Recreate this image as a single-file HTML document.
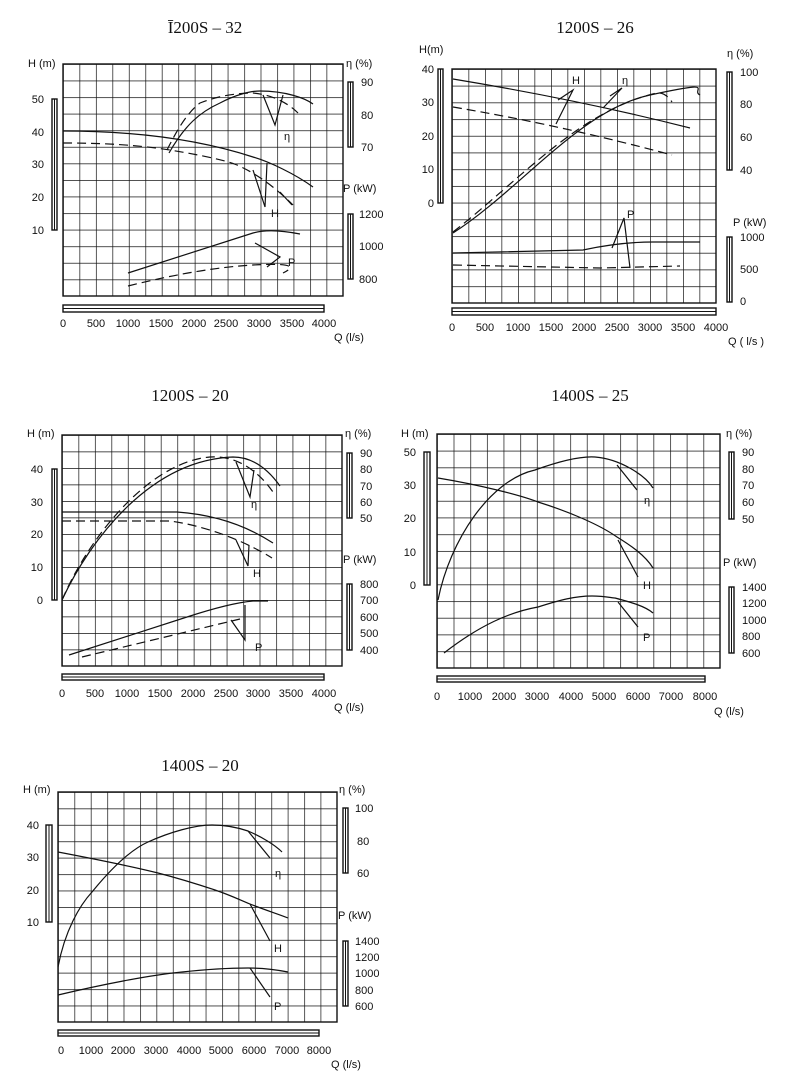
<!DOCTYPE html>
<html><head><meta charset="utf-8"><style>
body{margin:0;background:#fff}
svg{display:block}
.t{font-family:"Liberation Serif",serif;font-size:17px;fill:#111}
.l{font-family:"Liberation Sans",sans-serif;font-size:11px;fill:#111}
.c{fill:none;stroke:#111;stroke-width:1.2}
.d{fill:none;stroke:#111;stroke-width:1.2;stroke-dasharray:9,5}
.g{fill:none;stroke:#111;stroke-width:1.4}
</style></head><body>
<svg width="800" height="1071" viewBox="0 0 800 1071" xmlns="http://www.w3.org/2000/svg">
<defs>
<pattern id="p1" x="63" y="64" width="16.47" height="16.57" patternUnits="userSpaceOnUse"><path d="M0,0V17M0,0H17" stroke="#111" stroke-width="1.4"/></pattern>
<pattern id="p2" x="452" y="69" width="16.5" height="16.71" patternUnits="userSpaceOnUse"><path d="M0,0V17M0,0H17" stroke="#111" stroke-width="1.4"/></pattern>
<pattern id="p3" x="62" y="435" width="16.47" height="16.5" patternUnits="userSpaceOnUse"><path d="M0,0V17M0,0H17" stroke="#111" stroke-width="1.4"/></pattern>
<pattern id="p4" x="437" y="434" width="16.65" height="16.71" patternUnits="userSpaceOnUse"><path d="M0,0V17M0,0H17" stroke="#111" stroke-width="1.4"/></pattern>
<pattern id="p5" x="58" y="792" width="16.41" height="16.43" patternUnits="userSpaceOnUse"><path d="M0,0V17M0,0H17" stroke="#111" stroke-width="1.4"/></pattern>
</defs>

<!-- Chart 1 -->
<text class="t" x="205" y="33" text-anchor="middle">Ī200S – 32</text>
<rect x="63" y="64" width="280" height="232" fill="url(#p1)"/><rect x="63" y="64" width="280" height="232" class="g"/>
<rect x="52" y="99" width="5" height="131" class="g"/><line x1="54.5" y1="99" x2="54.5" y2="230" stroke="#111"/>
<rect x="348" y="82" width="5" height="65" class="g"/><line x1="350.5" y1="82" x2="350.5" y2="147" stroke="#111"/>
<rect x="348" y="214" width="5" height="65" class="g"/><line x1="350.5" y1="214" x2="350.5" y2="279" stroke="#111"/>
<rect x="63" y="305" width="261" height="7" class="g"/><line x1="63" y1="308.5" x2="324" y2="308.5" stroke="#111"/>
<text class="l" x="28" y="67">H (m)</text>
<g class="l" text-anchor="end"><text x="44" y="103">50</text><text x="44" y="136">40</text><text x="44" y="168">30</text><text x="44" y="201">20</text><text x="44" y="234">10</text></g>
<text class="l" x="346" y="67">η (%)</text>
<g class="l"><text x="361" y="86">90</text><text x="361" y="119">80</text><text x="361" y="151">70</text><text x="343" y="192">P (kW)</text><text x="359" y="218">1200</text><text x="359" y="250">1000</text><text x="359" y="283">800</text></g>
<g class="l" text-anchor="middle"><text x="63" y="327">0</text><text x="96" y="327">500</text><text x="128" y="327">1000</text><text x="161" y="327">1500</text><text x="194" y="327">2000</text><text x="226" y="327">2500</text><text x="259" y="327">3000</text><text x="292" y="327">3500</text><text x="324" y="327">4000</text></g>
<text class="l" x="334" y="341">Q (l/s)</text>
<path class="c" d="M63,131 C150,131 210,143 253,157 C270,162 295,174 313,187"/>
<path class="d" d="M63,143 C120,143 150,147 170,150 C200,155 225,160 237,165 C260,175 280,192 293,205"/>
<path class="c" d="M169,153 C185,125 200,112 220,103 C235,95 250,91 260,91 C285,91 305,98 313,104"/>
<path class="d" d="M167,150 C178,128 188,112 200,103 C220,95 240,93 253,93 C275,95 290,105 298,113"/>
<path class="c" d="M128,273 L253,233 Q270,228 300,234"/>
<path class="d" d="M128,286 Q200,268 253,265 T283,273"/>
<path class="c" d="M263,95 L275,125 L283,95 M253,170 L265,207 L267,163 M280,192 L292,205 M255,243 L280,257 L267,267"/>
<text class="l" x="284" y="140">η</text><text class="l" x="271" y="217">H</text><text class="l" x="288" y="266">P</text>

<!-- Chart 2 -->
<text class="t" x="595" y="33" text-anchor="middle">1200S – 26</text>
<rect x="452" y="69" width="264" height="234" fill="url(#p2)"/><rect x="452" y="69" width="264" height="234" class="g"/>
<rect x="438" y="69" width="5" height="134" class="g"/><line x1="440.5" y1="69" x2="440.5" y2="203" stroke="#111"/>
<rect x="727" y="72" width="5" height="98" class="g"/><line x1="729.5" y1="72" x2="729.5" y2="170" stroke="#111"/>
<rect x="727" y="237" width="5" height="65" class="g"/><line x1="729.5" y1="237" x2="729.5" y2="302" stroke="#111"/>
<rect x="452" y="308" width="264" height="7" class="g"/><line x1="452" y1="311.5" x2="716" y2="311.5" stroke="#111"/>
<text class="l" x="419" y="53">H(m)</text>
<g class="l" text-anchor="end"><text x="434" y="73">40</text><text x="434" y="106">30</text><text x="434" y="140">20</text><text x="434" y="173">10</text><text x="434" y="207">0</text></g>
<text class="l" x="727" y="57">η (%)</text>
<g class="l"><text x="740" y="76">100</text><text x="740" y="108">80</text><text x="740" y="141">60</text><text x="740" y="174">40</text><text x="733" y="226">P (kW)</text><text x="740" y="241">1000</text><text x="740" y="273">500</text><text x="740" y="305">0</text></g>
<g class="l" text-anchor="middle"><text x="452" y="331">0</text><text x="485" y="331">500</text><text x="518" y="331">1000</text><text x="551" y="331">1500</text><text x="584" y="331">2000</text><text x="617" y="331">2500</text><text x="650" y="331">3000</text><text x="683" y="331">3500</text><text x="716" y="331">4000</text></g>
<text class="l" x="728" y="345">Q ( l/s )</text>
<path class="c" d="M453,79 Q580,100 690,128"/>
<path class="d" d="M453,107 Q560,125 672,155"/>
<path class="c" d="M453,233 C520,190 580,110 650,95 S690,90 700,95"/>
<path class="d" d="M453,232 C520,180 580,110 657,93 Q665,92 672,102"/>
<path class="c" d="M453,253 L583,250 Q620,242 653,242 L700,242"/>
<path class="d" d="M453,265 L600,268 L680,266"/>
<path class="c" d="M556,124 L573,90 L558,100 M603,108 L622,88 L610,96 M612,248 L624,218 L630,268"/>
<text class="l" x="572" y="84">H</text><text class="l" x="622" y="84">η</text><text class="l" x="627" y="218">P</text>

<!-- Chart 3 -->
<text class="t" x="190" y="401" text-anchor="middle">1200S – 20</text>
<rect x="62" y="435" width="280" height="231" fill="url(#p3)"/><rect x="62" y="435" width="280" height="231" class="g"/>
<rect x="52" y="469" width="5" height="131" class="g"/><line x1="54.5" y1="469" x2="54.5" y2="600" stroke="#111"/>
<rect x="347" y="453" width="5" height="65" class="g"/><line x1="349.5" y1="453" x2="349.5" y2="518" stroke="#111"/>
<rect x="347" y="584" width="5" height="66" class="g"/><line x1="349.5" y1="584" x2="349.5" y2="650" stroke="#111"/>
<rect x="62" y="674" width="262" height="6" class="g"/><line x1="62" y1="677" x2="324" y2="677" stroke="#111"/>
<text class="l" x="27" y="437">H (m)</text>
<g class="l" text-anchor="end"><text x="43" y="473">40</text><text x="43" y="506">30</text><text x="43" y="538">20</text><text x="43" y="571">10</text><text x="43" y="604">0</text></g>
<text class="l" x="345" y="437">η (%)</text>
<g class="l"><text x="360" y="457">90</text><text x="360" y="473">80</text><text x="360" y="490">70</text><text x="360" y="506">60</text><text x="360" y="522">50</text><text x="343" y="563">P (kW)</text><text x="360" y="588">800</text><text x="360" y="604">700</text><text x="360" y="621">600</text><text x="360" y="637">500</text><text x="360" y="654">400</text></g>
<g class="l" text-anchor="middle"><text x="62" y="697">0</text><text x="95" y="697">500</text><text x="127" y="697">1000</text><text x="160" y="697">1500</text><text x="193" y="697">2000</text><text x="226" y="697">2500</text><text x="258" y="697">3000</text><text x="291" y="697">3500</text><text x="324" y="697">4000</text></g>
<text class="l" x="334" y="711">Q (l/s)</text>
<path class="c" d="M62,600 C90,540 150,460 233,457 C255,457 270,472 280,486"/>
<path class="d" d="M62,600 C90,535 150,462 210,457 C240,455 262,475 275,495"/>
<path class="c" d="M62,512 L177,512 C220,515 250,528 273,543"/>
<path class="d" d="M62,521 L170,521 C200,525 240,538 272,558"/>
<path class="c" d="M69,655 L187,617 Q230,603 253,601 L268,601"/>
<path class="d" d="M82,657 L240,619"/>
<path class="c" d="M236,462 L250,497 L254,470 M236,540 L248,566 L249,545 M231,620 L245,640 L245,605"/>
<text class="l" x="251" y="508">η</text><text class="l" x="253" y="577">H</text><text class="l" x="255" y="651">P</text>

<!-- Chart 4 -->
<text class="t" x="590" y="401" text-anchor="middle">1400S – 25</text>
<rect x="437" y="434" width="283" height="234" fill="url(#p4)"/><rect x="437" y="434" width="283" height="234" class="g"/>
<rect x="424" y="452" width="6" height="133" class="g"/><line x1="427" y1="452" x2="427" y2="585" stroke="#111"/>
<rect x="729" y="452" width="5" height="67" class="g"/><line x1="731.5" y1="452" x2="731.5" y2="519" stroke="#111"/>
<rect x="729" y="587" width="5" height="66" class="g"/><line x1="731.5" y1="587" x2="731.5" y2="653" stroke="#111"/>
<rect x="437" y="676" width="268" height="6" class="g"/><line x1="437" y1="679" x2="705" y2="679" stroke="#111"/>
<text class="l" x="401" y="437">H (m)</text>
<g class="l" text-anchor="end"><text x="416" y="456">50</text><text x="416" y="489">30</text><text x="416" y="522">20</text><text x="416" y="556">10</text><text x="416" y="589">0</text></g>
<text class="l" x="726" y="437">η (%)</text>
<g class="l"><text x="742" y="456">90</text><text x="742" y="473">80</text><text x="742" y="489">70</text><text x="742" y="506">60</text><text x="742" y="523">50</text><text x="723" y="566">P (kW)</text><text x="742" y="591">1400</text><text x="742" y="607">1200</text><text x="742" y="624">1000</text><text x="742" y="640">800</text><text x="742" y="657">600</text></g>
<g class="l" text-anchor="middle"><text x="437" y="700">0</text><text x="470" y="700">1000</text><text x="504" y="700">2000</text><text x="537" y="700">3000</text><text x="571" y="700">4000</text><text x="604" y="700">5000</text><text x="638" y="700">6000</text><text x="671" y="700">7000</text><text x="705" y="700">8000</text></g>
<text class="l" x="714" y="715">Q (l/s)</text>
<path class="c" d="M438,600 C450,540 490,480 535,470 C560,461 580,456 595,457 C620,459 645,475 653,488"/>
<path class="c" d="M438,478 C480,485 520,495 538,502 C570,512 600,525 617,537 C630,545 645,555 653,568"/>
<path class="c" d="M444,653 C480,625 510,612 538,607 C560,600 575,596 592,596 C605,596 612,598 615,598 C630,602 645,606 653,613"/>
<path class="c" d="M617,465 L637,490 M618,540 L638,577 M618,602 L638,627"/>
<text class="l" x="644" y="504">η</text><text class="l" x="643" y="589">H</text><text class="l" x="643" y="641">P</text>

<!-- Chart 5 -->
<text class="t" x="200" y="771" text-anchor="middle">1400S – 20</text>
<rect x="58" y="792" width="279" height="230" fill="url(#p5)"/><rect x="58" y="792" width="279" height="230" class="g"/>
<rect x="46" y="825" width="6" height="97" class="g"/><line x1="49" y1="825" x2="49" y2="922" stroke="#111"/>
<rect x="343" y="808" width="5" height="65" class="g"/><line x1="345.5" y1="808" x2="345.5" y2="873" stroke="#111"/>
<rect x="343" y="941" width="5" height="65" class="g"/><line x1="345.5" y1="941" x2="345.5" y2="1006" stroke="#111"/>
<rect x="58" y="1030" width="261" height="6" class="g"/><line x1="58" y1="1033" x2="319" y2="1033" stroke="#111"/>
<text class="l" x="23" y="793">H (m)</text>
<g class="l" text-anchor="end"><text x="39" y="829">40</text><text x="39" y="861">30</text><text x="39" y="894">20</text><text x="39" y="926">10</text></g>
<text class="l" x="339" y="793">η (%)</text>
<g class="l"><text x="355" y="812">100</text><text x="357" y="845">80</text><text x="357" y="877">60</text><text x="338" y="919">P (kW)</text><text x="355" y="945">1400</text><text x="355" y="961">1200</text><text x="355" y="977">1000</text><text x="355" y="994">800</text><text x="355" y="1010">600</text></g>
<g class="l" text-anchor="middle"><text x="61" y="1054">0</text><text x="91" y="1054">1000</text><text x="123" y="1054">2000</text><text x="156" y="1054">3000</text><text x="189" y="1054">4000</text><text x="221" y="1054">5000</text><text x="254" y="1054">6000</text><text x="287" y="1054">7000</text><text x="319" y="1054">8000</text></g>
<text class="l" x="331" y="1068">Q (l/s)</text>
<path class="c" d="M58,967 C65,930 80,905 92,892 C110,870 130,850 148,842 C170,832 195,825 212,825 C230,825 242,829 248,831 C262,837 275,845 282,852"/>
<path class="c" d="M58,852 C100,860 130,866 158,873 C185,880 200,885 215,890 C230,895 240,900 250,904 C265,910 278,914 288,918"/>
<path class="c" d="M58,995 C100,985 150,975 182,972 C210,969 235,968 248,968 C265,968 278,970 288,972"/>
<path class="c" d="M248,831 L270,858 M250,904 L270,941 M250,968 L270,997"/>
<text class="l" x="275" y="877">η</text><text class="l" x="274" y="952">H</text><text class="l" x="274" y="1010">P</text>
</svg>
</body></html>
